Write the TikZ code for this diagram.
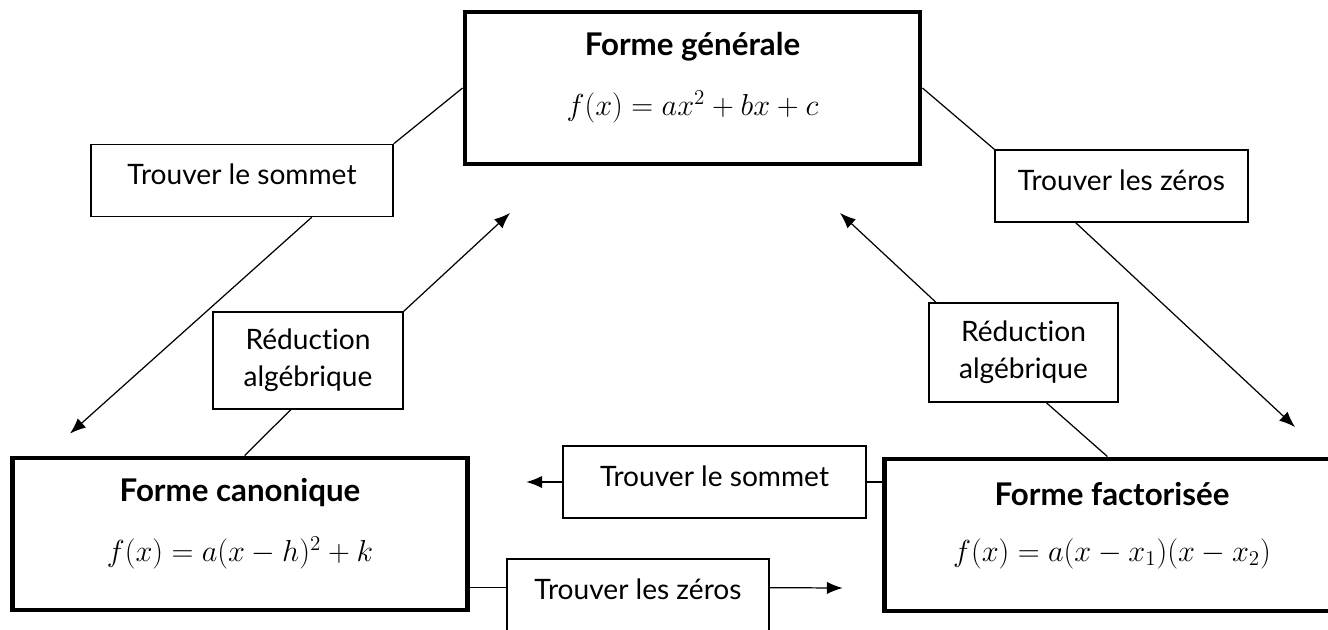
\documentclass[tikz,border=0pt]{standalone}
\usepackage{fontspec}
\setmainfont{Lato}[Ligatures=NoCommon]
\usetikzlibrary{calc}
\usetikzlibrary{positioning}
\usetikzlibrary{arrows.meta}

% one pixel of the drawing
\def\px{0.02cm}

\tikzset{
    labelbox/.style={rectangle, draw, line width=0.8pt, fill=white, inner sep=0pt, align=center},
    onelinebox/.style={labelbox, text height=23pt, text depth=18pt},
}

\newcommand{\formbox}[4]{
    \begin{scope}
        \node (#1) [rectangle, draw, line width=2.8pt, minimum width=455*\px, minimum height=152*\px] at (#4) {};
        \node (#1_title) [font=\fontsize{17.8}{20}\selectfont\bfseries] at ($(#1.north)+(0,37)$) {#2};
        \node (#1_eq) [font=\fontsize{17.4}{20}\selectfont] at ($(#1.north)+(0,97)$) {#3};
    \end{scope}
}

\begin{document}
\begin{tikzpicture}[x=\px, y=-\px, font=\fontsize{16}{21}\selectfont, >={Latex[length=9pt, width=7pt]}, line width=0.7pt]
    \useasboundingbox (0,0) rectangle (1328,629);
    \clip (0,0) rectangle (1328,629);

    \formbox{gen}{Forme générale}{$f(x) = ax^2 + bx + c$}{692.5,88}
    \formbox{can}{Forme canonique}{$f(x) = a(x-h)^2 + k$}{240,534}
    \formbox{fac}{Forme factorisée}{$f(x) = a(x-x_1)(x-x_2)$}{1112,535}

    \node (som1) [onelinebox, minimum width=302*\px] at (242,180.5) {Trouver le sommet};
    \node (zer1) [onelinebox, minimum width=253*\px] at (1121.5,186) {Trouver les zéros};
    \node (red1) [labelbox, minimum width=190*\px, minimum height=97*\px] at (308,360.5) {Réduction\\algébrique};
    \node (red2) [labelbox, minimum width=189*\px, minimum height=99*\px] at (1023.5,352.5) {Réduction\\algébrique};
    \node (som2) [onelinebox, minimum width=303*\px] at (714.5,482) {Trouver le sommet};
    \node (zer2) [onelinebox, minimum width=262*\px] at (638,595) {Trouver les zéros};

    % free ends of the arrows
    \coordinate (can_in) at ($(can.north west)+(60,-22)$);
    \coordinate (gen_in1) at (510,213);
    \coordinate (gen_in2) at (840,213);
    \coordinate (fac_in) at (1295,427);
    \coordinate (can_in2) at ($(som2.west)+(-36,0)$);
    \coordinate (fac_in2) at ($(zer2.east)+(73,-7)$);

    % general -> canonique
    \draw (gen.west) -- (som1.north east);
    \draw [->] ($(som1.south west)!0.73!(som1.south east)$) -- (can_in);
    % canonique -> general
    \draw ($(can.north west)!0.51!(can.north east)$) -- ($(red1.south west)!0.41!(red1.south east)$);
    \draw [->] (red1.north east) -- (gen_in1);
    % general -> factorisee
    \draw (gen.east) -- (zer1.north west);
    \draw [->] ($(zer1.south west)!0.32!(zer1.south east)$) -- (fac_in);
    % factorisee -> general
    \draw ($(fac.north west)!0.49!(fac.north east)$) -- ($(red2.south west)!0.62!(red2.south east)$);
    \draw [->] ($(red2.north west)!0.04!(red2.north east)$) -- (gen_in2);
    % factorisee -> canonique
    \draw (som2.east) -- (som2.east -| fac.west);
    \draw [->] (som2.west) -- (can_in2);
    % canonique -> factorisee
    \draw ($(zer2.north west)!0.4!(zer2.south west)$) coordinate (zer2_in) -- (zer2_in -| can.east);
    \draw [->] ($(zer2.north east)!0.4!(zer2.south east)$) -- (fac_in2);
\end{tikzpicture}
\end{document}
